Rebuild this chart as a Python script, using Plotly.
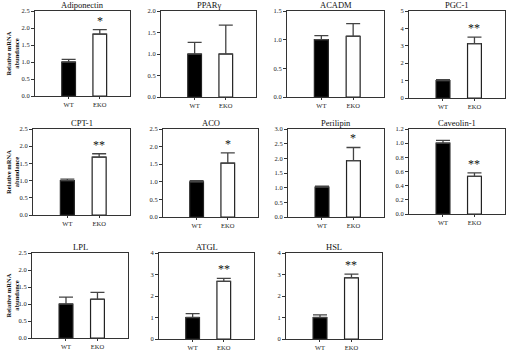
import plotly.graph_objects as go

genes = ["Adiponectin", "PPARγ", "ACADM", "PGC-1", "CPT-1", "ACO",
         "Perilipin", "Caveolin-1", "LPL", "ATGL", "HSL"]
groups = ["WT", "EKO"]
wt_mean = [1.00, 1.00, 1.00, 1.00, 1.00, 1.00, 1.02, 1.00, 1.00, 1.00, 1.00]
wt_err = [0.08, 0.27, 0.07, 0.05, 0.04, 0.03, 0.03, 0.04, 0.20, 0.18, 0.12]
eko_mean = [1.82, 1.00, 1.06, 3.12, 1.68, 1.53, 1.92, 0.53, 1.14, 2.68, 2.85]
eko_err = [0.13, 0.67, 0.22, 0.38, 0.10, 0.29, 0.45, 0.05, 0.20, 0.14, 0.17]
sig = ["*", "", "", "**", "**", "*", "*", "**", "", "**", "**"]
y_max = [2.5, 2.0, 1.5, 5, 2.5, 2.5, 3.0, 1.2, 2.5, 4, 4]
y_dtick = [0.5, 0.5, 0.5, 1, 0.5, 0.5, 0.5, 0.2, 0.5, 1, 1]
y_title = "Relative mRNA<br>abundance"

# layout: panel boxes in pixels (x0, x1, top, bottom)
W, H = 508, 351
boxes = [(35, 130, 11, 96), (161, 256, 11, 97), (287, 384, 11, 97), (409, 505, 11, 98),
         (33, 130, 129, 215), (163, 258, 129, 217), (288, 384, 129, 217), (409, 505, 129, 214),
         (32, 128, 253, 338), (159, 254, 253, 339), (286, 382, 253, 339)]
first_col = [0, 4, 8]

FONT = "Liberation Serif, Times New Roman, serif"
fig = go.Figure()
annotations = []
for i, g in enumerate(genes):
    n = "" if i == 0 else str(i + 1)
    x0, x1, t, b = boxes[i]
    fig.add_trace(go.Bar(
        x=[0, 1], y=[wt_mean[i], eko_mean[i]], width=0.44,
        marker=dict(color=["black", "white"], line=dict(color="#222", width=1.2)),
        error_y=dict(type="data", symmetric=False, array=[wt_err[i], eko_err[i]],
                     arrayminus=[0, 0], color="#444", thickness=1.3, width=7),
        xaxis="x" + n, yaxis="y" + n, showlegend=False, hoverinfo="skip"))
    fig.layout["xaxis" + n] = dict(
        domain=[x0 / W, x1 / W], anchor="y" + n, range=[-1.08, 1.97],
        tickvals=[0, 1], ticktext=groups, ticks="outside", ticklen=2,
        ticklabelstandoff=0, automargin=False,
        tickcolor="#333", showline=True, mirror=True, linecolor="#333",
        linewidth=1, showgrid=False, zeroline=False, fixedrange=True,
        tickfont=dict(family=FONT, size=6.5, color="#222"))
    fig.layout["yaxis" + n] = dict(
        domain=[1 - b / H, 1 - t / H], anchor="x" + n, range=[0, y_max[i]],
        dtick=y_dtick[i], tickformat=".1f" if y_dtick[i] < 1 else "d",
        ticks="outside", ticklen=3, tickcolor="#333", showline=True,
        automargin=False,
        mirror=True, linecolor="#333", linewidth=1, showgrid=False,
        zeroline=False, fixedrange=True,
        tickfont=dict(family=FONT, size=6.5, color="#222"))
    annotations.append(dict(text=g, x=(x0 + x1) / 2 / W, y=1 - (t - 6) / H,
                            xref="paper", yref="paper", xanchor="center",
                            yanchor="middle", showarrow=False,
                            font=dict(family=FONT, size=8.5, color="#111")))
    if sig[i]:
        annotations.append(dict(text=sig[i], x=1, y=eko_mean[i] + eko_err[i],
                                xref="x" + n, yref="y" + n, xanchor="center",
                                yanchor="bottom", yshift=0, showarrow=False,
                                font=dict(family=FONT, size=12, color="#111")))
    if i in first_col:
        annotations.append(dict(text="<b>" + y_title + "</b>", x=12 / W,
                                y=1 - (t + b) / 2 / H, xref="paper", yref="paper",
                                textangle=-90, xanchor="center", yanchor="middle",
                                showarrow=False,
                                font=dict(family=FONT, size=6.5, color="#111")))

fig.update_layout(template="none", width=W, height=H,
                  margin=dict(l=0, r=0, t=0, b=0, autoexpand=False),
                  paper_bgcolor="white", plot_bgcolor="white",
                  annotations=annotations, bargap=0, hovermode=False)
fig.write_html("out.html", config={"displayModeBar": False, "staticPlot": True},
               post_script="document.body.style.margin='0';document.body.style.padding='0';")
